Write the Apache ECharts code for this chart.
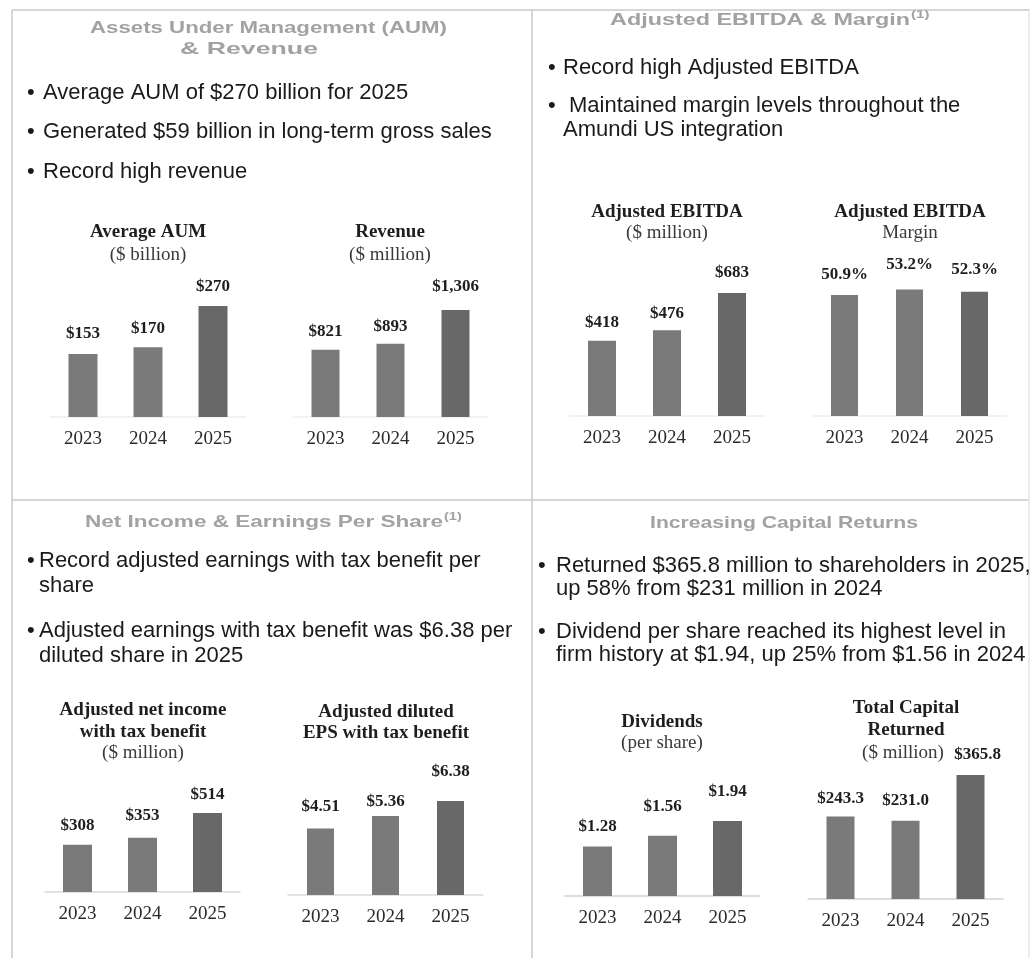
<!DOCTYPE html>
<html>
<head>
<meta charset="utf-8">
<script src="https://cdn.jsdelivr.net/npm/echarts@6/dist/echarts.min.js"></script>
<style>
  html, body { margin: 0; padding: 0; background: #ffffff; }
  #main { width: 1036px; height: 958px; }
</style>
</head>
<body>
<div id="main"></div>
<script>
// ---- Data ----
const years = ['2023', '2024', '2025'];
const aumValues = [153, 170, 270];              // Average AUM, $ billion
const revenueValues = [821, 893, 1306];         // Revenue, $ million
const ebitdaValues = [418, 476, 683];           // Adjusted EBITDA, $ million
const marginValues = [50.9, 53.2, 52.3];        // Adjusted EBITDA margin, %
const netIncomeValues = [308, 353, 514];        // Adjusted net income with tax benefit, $ million
const epsValues = [4.51, 5.36, 6.38];           // Adjusted diluted EPS with tax benefit, $
const dividendValues = [1.28, 1.56, 1.94];      // Dividends per share, $
const capitalReturnedValues = [243.3, 231.0, 365.8]; // Total capital returned, $ million

// ---- Text content ----
const panelTitles = [
  { text: 'Assets Under Management (AUM)', x0: 90, x1: 447, y: 28 },
  { text: '& Revenue', x0: 180, x1: 318, y: 49 },
  { text: 'Adjusted EBITDA & Margin', x0: 610, x1: 910, y: 20, sup: '(1)' },
  { text: 'Net Income & Earnings Per Share', x0: 85, x1: 443, y: 522, sup: '(1)' },
  { text: 'Increasing Capital Returns', x0: 650, x1: 918, y: 523 }
];

const bulletLines = [
  { bx: 27, x: 43, y: 93, text: 'Average AUM of $270 billion for 2025' },
  { bx: 27, x: 43, y: 132, text: 'Generated $59 billion in long-term gross sales' },
  { bx: 27, x: 43, y: 172, text: 'Record high revenue' },
  { bx: 548, x: 563, y: 68, text: 'Record high Adjusted EBITDA' },
  { bx: 548, x: 569, y: 106, text: 'Maintained margin levels throughout the' },
  { x: 563, y: 130, text: 'Amundi US integration' },
  { bx: 27, x: 39, y: 561, text: 'Record adjusted earnings with tax benefit per' },
  { x: 39, y: 586, text: 'share' },
  { bx: 27, x: 39, y: 631, text: 'Adjusted earnings with tax benefit was $6.38 per' },
  { x: 39, y: 656, text: 'diluted share in 2025' },
  { bx: 538, x: 556, y: 566, text: 'Returned $365.8 million to shareholders in 2025,' },
  { x: 556, y: 589, text: 'up 58% from $231 million in 2024' },
  { bx: 538, x: 556, y: 632, text: 'Dividend per share reached its highest level in' },
  { x: 556, y: 655, text: 'firm history at $1.94, up 25% from $1.56 in 2024' }
];

// ---- Formatting helpers ----
const money0 = v => '$' + v.toLocaleString('en-US');
const money1 = v => '$' + v.toFixed(1);
const money2 = v => '$' + v.toFixed(2);
const pct1 = v => v.toFixed(1) + '%';

const SERIF = '"Liberation Serif", "Times New Roman", serif';
const SANS = '"Liberation Sans", Arial, sans-serif';
const BAR_GRAY = '#7a7a7a';
const BAR_DARK = '#686868';

// ---- Small bar charts: layout per chart ----
const charts = [
  { values: aumValues, fmt: money0, mid: 148, base: 417, h: 123.3, max: 300, bw: 29, gaps: [21, 19, 19], axisColor: '#eeeeee',
    heads: [['Average AUM', 232, true], ['($ billion)', 255, false]], hx: 148 },
  { values: revenueValues, fmt: money0, mid: 390.5, base: 417, h: 114.7, max: 1400, bw: 28, gaps: [18, 17, 23], axisColor: '#eeeeee',
    heads: [['Revenue', 232, true], ['($ million)', 255, false]], hx: 390 },
  { values: ebitdaValues, fmt: money0, mid: 667, base: 416, h: 126, max: 700, bw: 28, gaps: [18, 17, 20], axisColor: '#eeeeee',
    heads: [['Adjusted EBITDA', 212, true], ['($ million)', 233, false]], hx: 667 },
  { values: marginValues, fmt: pct1, mid: 909.5, base: 416, h: 130.7, max: 55, bw: 27, gaps: [20, 25, 22], axisColor: '#eeeeee',
    heads: [['Adjusted EBITDA', 212, true], ['Margin', 233, false]], hx: 910 },
  { values: netIncomeValues, fmt: money0, mid: 142.5, base: 892, h: 92.2, max: 600, bw: 29, gaps: [19, 22, 18], axisColor: '#dadada',
    heads: [['Adjusted net income', 710, true], ['with tax benefit', 732, true], ['($ million)', 753, false]], hx: 143 },
  { values: epsValues, fmt: money2, mid: 385.5, base: 895, h: 103.1, max: 7, bw: 27, gaps: [22, 14, 29], axisColor: '#dadada',
    heads: [['Adjusted diluted', 712, true], ['EPS with tax benefit', 733, true]], hx: 386 },
  { values: dividendValues, fmt: money2, mid: 662.5, base: 896, h: 77.3, max: 2, bw: 29, gaps: [20, 29, 29], axisColor: '#d2d2d2',
    heads: [['Dividends', 722, true], ['(per share)', 743, false]], hx: 662 },
  { values: capitalReturnedValues, fmt: money1, mid: 905.5, base: 899, h: 135.6, max: 400, bw: 28, gaps: [18, 20, 20], shift: [0, 0, 7], axisColor: '#d2d2d2',
    heads: [['Total Capital', 708, true], ['Returned', 730, true], ['($ million)', 753, false, 903]], hx: 906 }
];

const chart = echarts.init(document.getElementById('main'), null, { renderer: 'canvas', width: 1036, height: 958 });

const grid = [], xAxis = [], yAxis = [], series = [], graphic = [];

charts.forEach((c, i) => {
  grid.push({ left: c.mid - 97.5, width: 195, top: c.base - c.h, height: c.h, containLabel: false });
  xAxis.push({
    type: 'category', gridIndex: i, data: years,
    axisTick: { show: false },
    axisLine: { show: true, lineStyle: { color: c.axisColor, width: 1.5 } },
    axisLabel: { margin: 13, fontFamily: SERIF, fontSize: 19, color: '#2a2a2a' }
  });
  yAxis.push({ type: 'value', gridIndex: i, min: 0, max: c.max, show: false });
  series.push({
    type: 'bar', xAxisIndex: i, yAxisIndex: i, barWidth: c.bw, silent: true,
    data: c.values.map((v, j) => ({
      value: v,
      itemStyle: { color: j === 2 ? BAR_DARK : BAR_GRAY },
      label: { distance: c.gaps[j] - 8.5, offset: [c.shift ? c.shift[j] : 0, 0] }
    })),
    label: {
      show: true, position: 'top',
      formatter: p => c.fmt(p.value),
      fontFamily: SERIF, fontWeight: 'bold', fontSize: 17, color: '#1e1e1e'
    }
  });
  c.heads.forEach(([txt, y, bold, ownX]) => {
    graphic.push({
      type: 'text', x: ownX || c.hx, y: y, silent: true,
      style: {
        text: txt, fill: bold ? '#1e1e1e' : '#3a3a3a',
        font: (bold ? 'bold ' : '') + '19px ' + SERIF,
        align: 'center', verticalAlign: 'middle',
        textAlign: 'center', textVerticalAlign: 'middle'
      }
    });
  });
});

// Panel frame lines
const frameColor = '#c9c9c9';
[
  [12, 10, 1030, 10], [12, 500, 1030, 500],
  [12, 10, 12, 958], [532, 10, 532, 958], [1029, 10, 1029, 958]
].forEach(([x1, y1, x2, y2], k) => {
  graphic.push({
    type: 'line', silent: true,
    shape: { x1, y1, x2, y2 },
    style: { stroke: k === 4 ? '#e6e6e6' : frameColor, lineWidth: 1.5 }
  });
});

// Panel headings, widened to fill their span
const measureCtx = document.createElement('canvas').getContext('2d');
const headFont = 'bold 17px ' + SANS;
measureCtx.font = headFont;
panelTitles.forEach(t => {
  const w = measureCtx.measureText(t.text).width;
  const sx = (t.x1 - t.x0) / w;
  graphic.push({
    type: 'text', x: t.x0, y: t.y, scaleX: sx, silent: true,
    style: {
      text: t.text, fill: '#a2a2a2', font: headFont,
      align: 'left', verticalAlign: 'middle', textAlign: 'left', textVerticalAlign: 'middle'
    }
  });
  if (t.sup) {
    graphic.push({
      type: 'text', x: t.x1 + 1, y: t.y - 5, scaleX: sx, silent: true,
      style: {
        text: t.sup, fill: '#a2a2a2', font: 'bold 11px ' + SANS,
        align: 'left', verticalAlign: 'middle', textAlign: 'left', textVerticalAlign: 'middle'
      }
    });
  }
});

// Bullet points
const bulletFont = '22px ' + SANS;
bulletLines.forEach(b => {
  if (b.bx !== undefined) {
    graphic.push({
      type: 'text', x: b.bx, y: b.y, silent: true,
      style: { text: '•', fill: '#1a1a1a', font: bulletFont, align: 'left', verticalAlign: 'middle', textAlign: 'left', textVerticalAlign: 'middle' }
    });
  }
  graphic.push({
    type: 'text', x: b.x, y: b.y, silent: true,
    style: { text: b.text, fill: '#1a1a1a', font: bulletFont, align: 'left', verticalAlign: 'middle', textAlign: 'left', textVerticalAlign: 'middle' }
  });
});

chart.setOption({
  animation: false,
  backgroundColor: '#ffffff',
  grid, xAxis, yAxis, series,
  graphic: { elements: graphic }
});
</script>
</body>
</html>
